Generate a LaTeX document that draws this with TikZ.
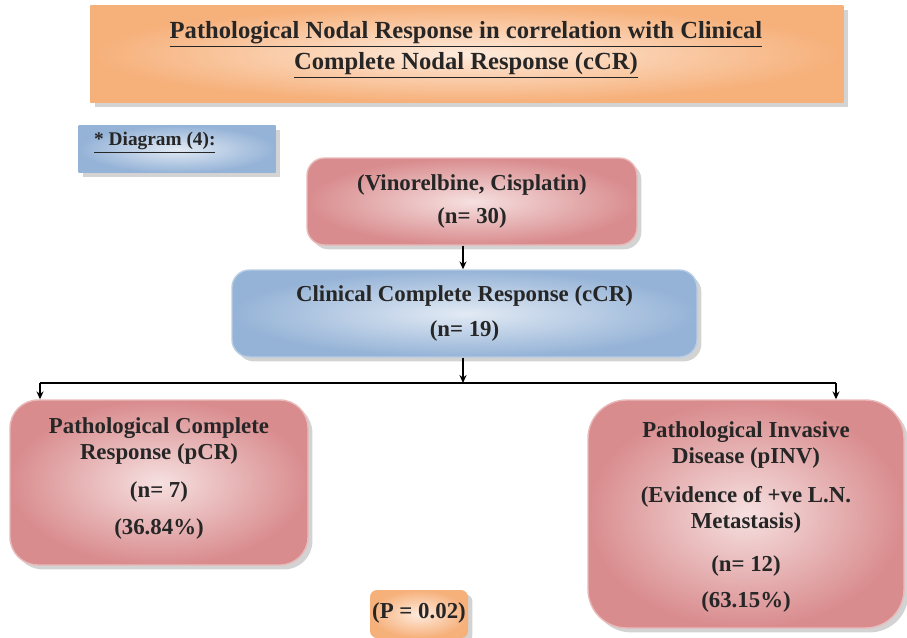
\documentclass[tikz,border=0pt]{standalone}
\usepackage{fontspec}
\setmainfont{Liberation Serif}
\usetikzlibrary{shadows,arrows.meta}
\definecolor{pinkout}{HTML}{D98C8E}
\definecolor{pinkin}{HTML}{F6E0E0}
\definecolor{pinkedge}{HTML}{E9B9B9}
\definecolor{blueout}{HTML}{95B3D7}
\definecolor{bluein}{HTML}{E2EAF4}
\definecolor{blueedge}{HTML}{B8CCE4}
\definecolor{orout}{HTML}{F6B07A}
\definecolor{orin}{HTML}{FEEBDD}
\tikzset{
  boxbase/.style={inner sep=0pt, drop shadow={shadow xshift=2.5pt, shadow yshift=-2.5pt, opacity=0.35}},
  pinkbox/.style={boxbase, draw=pinkedge, line width=0.8pt, shading=radial, inner color=pinkin, outer color=pinkout},
  bluebox/.style={boxbase, draw=blueedge, line width=0.8pt, shading=radial, inner color=bluein, outer color=blueout},
  orbox/.style={boxbase, draw=none, shading=radial, inner color=orin, outer color=orout},
  txt/.style={align=center, font=\bfseries\fontsize{13}{15}\selectfont, text=black!85},
  conn/.style={line width=0.9pt, black},
  arr/.style={conn, -{Stealth[length=4.5pt,width=4pt]}}
}
\begin{document}
\begin{tikzpicture}[x=0.02cm,y=-0.02cm]
\useasboundingbox (0,0) rectangle (907,637);
% title
\node[orbox, minimum width=753*0.02cm, minimum height=97*0.02cm, anchor=north west] (title) at (90,5) {};
\node[txt, font=\bfseries\fontsize{14}{18}\selectfont] (titletext) at (466,50) {\underline{Pathological Nodal Response in correlation with Clinical}\\\underline{Complete Nodal Response (cCR)}};
% diagram label
\node[bluebox, draw=none, minimum width=197*0.02cm, minimum height=47*0.02cm, anchor=north west] (diag) at (78,125) {};
\node[txt, font=\bfseries\fontsize{11}{13}\selectfont, anchor=west] (diagtext) at (88,143) {\underline{* Diagram (4):}};
% vinorelbine
\node[pinkbox, rounded corners=10pt, minimum width=330*0.02cm, minimum height=87*0.02cm] (vin) at (472,201.5) {};
\node[txt] (vintext) at (472,201.5) {(Vinorelbine, Cisplatin)\\[3.5pt](n= 30)};
% cCR
\node[bluebox, rounded corners=10pt, minimum width=465*0.02cm, minimum height=87*0.02cm] (ccr) at (464.5,313.5) {};
\node[txt] (ccrtext) at (464.5,313.5) {Clinical Complete Response (cCR)\\[4.5pt](n= 19)};
% pCR
\node[pinkbox, rounded corners=16pt, minimum width=298*0.02cm, minimum height=165*0.02cm] (pcr) at (159,482.5) {};
\node[txt] (pcrtext) at (159,478.5) {Pathological Complete\\Response (pCR)\\[6.5pt](n= 7)\\[6pt](36.84\%)};
% pINV
\node[pinkbox, rounded corners=22pt, minimum width=316*0.02cm, minimum height=228*0.02cm] (pinv) at (746,514) {};
\node[txt] (pinvtext) at (746,517) {Pathological Invasive\\Disease (pINV)\\[7pt](Evidence of +ve L.N.\\Metastasis)\\[9.5pt](n= 12)\\[5.5pt](63.15\%)};
% P value
\node[orbox, rounded corners=4pt, minimum width=98*0.02cm, minimum height=48*0.02cm] (pval) at (419,614) {};
\node[txt] (pvaltext) at (419,613) {(P = 0.02)};
% connectors
\coordinate (j) at (463,383);
\coordinate (jl) at (40,383);
\coordinate (jr) at (836,383);
\draw[arr] (vin.south -| j) -- (ccr.north -| j);
\draw[arr] (ccr.south -| j) -- (j);
\draw[conn] (jl) -- (jr);
\draw[arr] (jl) -- (jl |- pcr.north);
\draw[arr] (jr) -- (jr |- pinv.north);
\end{tikzpicture}
\end{document}
